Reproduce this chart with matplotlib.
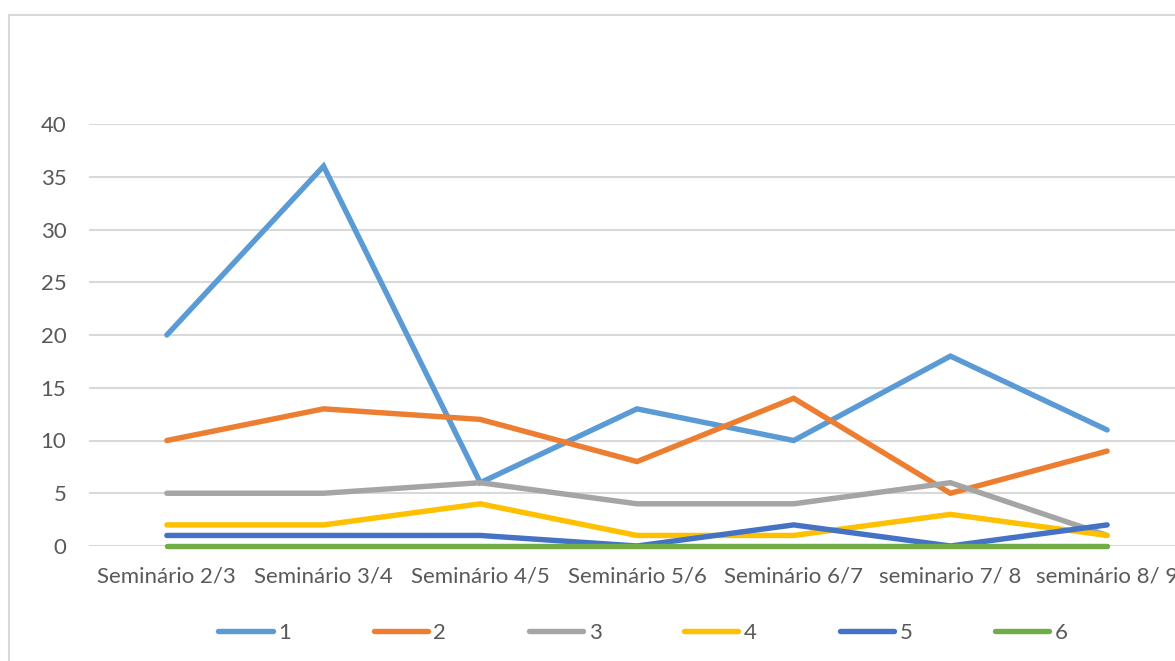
import matplotlib.pyplot as plt
from matplotlib.patches import Rectangle

plt.rcParams['font.family'] = ['Lato', 'DejaVu Sans']

# categorias e séries
seminarios = ['Seminário 2/3', 'Seminário 3/4', 'Seminário 4/5', 'Seminário 5/6',
              'Seminário 6/7', 'seminario 7/ 8', 'seminário 8/ 9']
serie_1 = [20, 36, 6, 13, 10, 18, 11]
serie_2 = [10, 13, 12, 8, 14, 5, 9]
serie_3 = [5, 5, 6, 4, 4, 6, 1]
serie_4 = [2, 2, 4, 1, 1, 3, 1]
serie_5 = [1, 1, 1, 0, 2, 0, 2]
serie_6 = [0, 0, 0, 0, 0, 0, 0]
nomes = ['1', '2', '3', '4', '5', '6']
cores = ['#5B9BD5', '#ED7D31', '#A5A5A5', '#FFC000', '#4472C4', '#70AD47']

texto = '#595959'
grade = '#D9D9D9'

fig = plt.figure(figsize=(11.75, 6.61), dpi=100)
# borda da área do gráfico (cortada à direita e em baixo)
fig.patches.append(Rectangle((9 / 1175, -0.05), 1.2, (661 - 15) / 661 + 0.05,
                             transform=fig.transFigure, fill=False,
                             edgecolor=grade, linewidth=1.5))

ax = fig.add_axes([88.5 / 1175, (661 - 546) / 661, 1097 / 1175, 422 / 661])

series = [serie_1, serie_2, serie_3, serie_4, serie_5, serie_6]
x = range(len(seminarios))
for valores, nome, cor in zip(series, nomes, cores):
    ax.plot(x, valores, color=cor, linewidth=3.9, label=nome,
            solid_capstyle='round', solid_joinstyle='miter', clip_on=False)

ax.set_xlim(-0.5, len(seminarios) - 0.5)
ax.set_ylim(0, 40)
ax.set_yticks(range(0, 41, 5))
ax.set_xticks(list(x))
ax.set_xticklabels(seminarios)
ax.grid(axis='y', color=grade, linewidth=1.5)
ax.set_axisbelow(True)
for lado in ax.spines.values():
    lado.set_visible(False)
ax.tick_params(length=0, labelsize=16, labelcolor=texto)
ax.tick_params(axis='x', pad=15)
ax.tick_params(axis='y', pad=16)

fig.legend(loc='center', bbox_to_anchor=(643 / 1175, (661 - 633) / 661), ncol=6,
           frameon=False, fontsize=16, labelcolor=texto, handlelength=2.44,
           handletextpad=0.25, columnspacing=3.72)

fig.savefig('out.png', dpi=100)
